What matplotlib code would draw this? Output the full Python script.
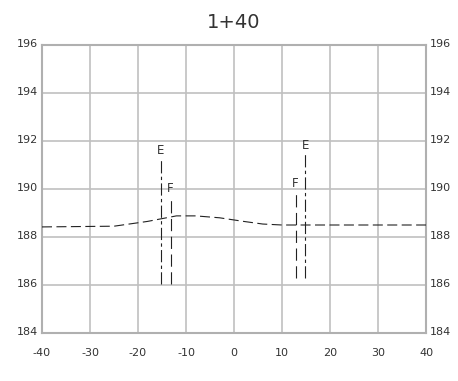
import matplotlib
matplotlib.use("Agg")
import matplotlib.pyplot as plt

title = "1+40"
x_ticks = [-40, -30, -20, -10, 0, 10, 20, 30, 40]
y_ticks = [184, 186, 188, 190, 192, 194, 196]

ground_x = [-40, -25, -18, -12, -8, -3, 2, 6, 10, 40]
ground_y = [188.42, 188.45, 188.65, 188.88, 188.88, 188.8, 188.65, 188.54, 188.5, 188.5]

marker_labels = ["E", "F", "F", "E"]
marker_x = [-15.2, -13.2, 12.85, 14.86]
marker_top = [191.3, 189.72, 189.9, 191.5]
marker_bottom = [186.05, 186.05, 186.28, 186.28]

fig = plt.figure(figsize=(4.58, 3.81), dpi=100)
ax = fig.add_axes([42/458, 48/381, 384/458, 288/381])
ax.set_xlim(-40, 40)
ax.set_ylim(184, 196)

grid_c = "#c0c0c0"
for xv in x_ticks:
    ax.axvline(xv, color=grid_c, lw=1.2, zorder=1)
for yv in y_ticks:
    ax.axhline(yv, color=grid_c, lw=1.2, zorder=1)
for s in ax.spines.values():
    s.set_color("#b0b0b0")
    s.set_linewidth(1.5)
ax.set_xticks([])
ax.set_yticks([])

lw = 0.8
ax.plot(ground_x, ground_y, color="#222222", lw=lw, dashes=(9, 4), zorder=3)

for lab, xv, top, bot in zip(marker_labels, marker_x, marker_top, marker_bottom):
    if lab == "E":
        ax.plot([xv, xv], [bot, top], color="#222222", lw=lw, dashes=(11, 3, 3, 3), zorder=3)
    else:
        ax.plot([xv, xv], [bot, top], color="#222222", lw=lw, dashes=(11, 5), zorder=3)
    ax.text(xv, top + 0.05, lab, ha="center", va="bottom", fontsize=8.5, color="#333333", zorder=4)

fs = 8
for yv in y_ticks:
    ax.text(-40.9, yv + 0.05, str(yv), ha="right", va="center", fontsize=fs, color="#333333")
    ax.text(40.9, yv + 0.05, str(yv), ha="left", va="center", fontsize=fs, color="#333333")
for xv in x_ticks:
    ax.text(xv, 183.15, str(xv), ha="center", va="center", fontsize=fs, color="#333333")

fig.text(0.511, 1 - 22/381, title, ha="center", va="center", fontsize=14, color="#333333")

fig.savefig("out.png", dpi=100)
